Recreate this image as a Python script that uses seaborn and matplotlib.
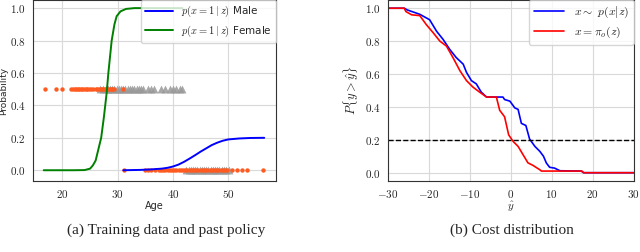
import numpy as np
import pandas as pd
import seaborn as sns
import matplotlib
matplotlib.use('Agg')
import matplotlib.pyplot as plt
from matplotlib.ticker import FuncFormatter, MultipleLocator

# Curvas de la política pasada
edad_fem = [16.6, 20, 22, 24, 25, 25.5, 26, 26.5, 27, 27.5, 28, 28.3, 28.9, 29.4,
            29.8, 30.5, 31.5, 33, 35, 41.7]
prob_fem = [0.0, 0.0, 0.0, 0.001, 0.01, 0.03, 0.06, 0.13, 0.2, 0.33, 0.48, 0.6, 0.8, 0.9,
            0.95, 0.98, 0.995, 1.0, 1.0, 1.0]
edad_masc = [31, 34, 36, 38, 39, 40, 41, 42, 43, 44, 45, 46, 47, 48, 49, 50, 52, 54, 56.5]
prob_masc = [0.0, 0.002, 0.005, 0.01, 0.015, 0.023, 0.035, 0.052, 0.072, 0.093, 0.115,
             0.135, 0.155, 0.17, 0.182, 0.19, 0.196, 0.199, 0.2]

# Datos de entrenamiento: puntos (naranja) y triángulos (gris)
fem_puntos = [16.8, 18.9, 19.9, 21.5, 21.9, 22.2, 22.5, 22.8, 23.0, 23.3, 23.6, 23.9, 24.2,
              24.5, 24.8, 25.1, 25.5, 26.0, 26.3, 26.6, 26.9, 27.2, 27.5, 27.8, 28.1, 28.4,
              28.7, 29.0, 29.3, 30.9]
fem_triang = [26.8, 27.3, 27.8, 28.2, 28.6, 29.0, 29.4, 29.8, 30.2, 30.6, 31.0, 31.4, 31.8,
              32.2, 32.6, 33.0, 33.4, 33.8, 34.2, 34.6, 35.5, 36.0, 36.5, 37.8, 38.6, 39.4,
              40.0, 40.6, 41.2, 41.7]
masc_puntos = [31.2, 34.9, 35.5, 36.1, 36.7, 37.4, 37.8, 38.2, 38.6, 39.0, 39.4, 39.8, 40.2,
               40.6, 41.0, 41.4, 41.8, 42.2, 42.6, 43.0, 43.4, 43.8, 44.2, 44.6, 45.0, 45.4,
               45.8, 46.2, 46.6, 47.0, 47.4, 47.8, 48.2, 48.6, 49.0, 49.4, 49.8, 50.7, 51.6,
               52.4, 53.3, 56.3]
masc_triang = [42.4, 42.8, 43.2, 43.6, 44.0, 44.4, 44.8, 45.2, 45.6, 46.0, 46.4, 46.8, 47.2,
               47.6, 48.0, 48.4, 48.8, 49.2, 49.6, 50.2]

# Distribución del coste
y_azul = [-30, -26, -25.3, -22.2, -19.8, -18.1, -16.5, -14.9, -13.3, -11.6, -10.8, -9.6, -8.4,
          -7.2, -5.9, -1.9, -1.5, -0.2, 1.0, 1.8, 2.6, 3.7, 4.6, 5.9, 7.1, 8.0, 8.7, 9.5,
          10.7, 12.0, 17.2, 17.8, 30]
p_azul = [1.0, 1.0, 0.99, 0.963, 0.93, 0.86, 0.81, 0.75, 0.70, 0.66, 0.61, 0.56, 0.54, 0.49,
          0.46, 0.46, 0.445, 0.435, 0.394, 0.385, 0.30, 0.287, 0.205, 0.16, 0.13, 0.10,
          0.059, 0.033, 0.028, 0.012, 0.01, 0.0, 0.0]
y_rojo = [-30, -26, -25.6, -24.2, -22.2, -20.6, -18.9, -17.3, -15.7, -14.1, -12.4, -10.8, -9.2,
          -7.6, -5.9, -3.5, -2.7, -1.5, -0.5, 0.6, 1.8, 3.0, 4.2, 5.4, 7.1, 7.5, 17.4, 17.8, 30]
p_rojo = [1.0, 1.0, 0.98, 0.96, 0.955, 0.90, 0.85, 0.80, 0.77, 0.70, 0.62, 0.56, 0.52, 0.49,
          0.46, 0.46, 0.38, 0.34, 0.23, 0.19, 0.16, 0.11, 0.06, 0.045, 0.018, 0.01, 0.01, 0.0, 0.0]
umbral = 0.2

sns.set_style('whitegrid', {'axes.edgecolor': '0.2', 'grid.color': '0.85'})
plt.rcParams['mathtext.fontset'] = 'cm'
plt.rcParams['font.family'] = ['DejaVu Sans']

fig = plt.figure(figsize=(6.4, 2.52), dpi=100)
ax1 = fig.add_axes([0.051, 0.282, 0.380, 0.718])
ax2 = fig.add_axes([0.606, 0.282, 0.384, 0.718])

naranja = '#ff5a1f'
sns.scatterplot(x=fem_triang, y=[0.5] * len(fem_triang), marker='^', color='0.6', s=32,
                linewidth=0, alpha=0.85, ax=ax1)
sns.scatterplot(x=masc_triang, y=[0.0] * len(masc_triang), marker='^', color='0.6', s=32,
                linewidth=0, alpha=0.85, ax=ax1)
sns.scatterplot(x=fem_puntos, y=[0.5] * len(fem_puntos), color=naranja, s=10, linewidth=0,
                ax=ax1)
sns.scatterplot(x=masc_puntos, y=[0.0] * len(masc_puntos), color=naranja, s=10, linewidth=0,
                ax=ax1)
sns.lineplot(x=edad_masc, y=prob_masc, color='blue', lw=1.4, sort=False, ax=ax1,
             label=r'$p(x=1\mid z)$ Male')
sns.lineplot(x=edad_fem, y=prob_fem, color='green', lw=1.4, sort=False, ax=ax1,
             label=r'$p(x=1\mid z)$ Female')
ax1.set_xlim(14.6, 58.6)
ax1.set_ylim(-0.066, 1.05)
ax1.xaxis.set_major_locator(MultipleLocator(10))
ax1.yaxis.set_major_locator(MultipleLocator(0.2))
ax1.xaxis.set_major_formatter(FuncFormatter(lambda v, p: f'${v:.0f}$'))
ax1.yaxis.set_major_formatter(FuncFormatter(lambda v, p: f'${v:.1f}$'))
ax1.set_xlabel('Age', fontsize=7, labelpad=1)
ax1.set_ylabel('Probability', fontsize=6.5)
ax1.yaxis.set_label_coords(-0.1, 0.5)
ax1.tick_params(labelsize=8, pad=1.5)
ax1.legend(loc='upper right', fontsize=7.5, handlelength=2.6, borderpad=0.4,
           labelspacing=0.4, borderaxespad=0.0)

sns.lineplot(x=y_azul, y=p_azul, color='blue', lw=1.2, sort=False,
             ax=ax2, label=r'$x \sim\ p(x|z)$')
sns.lineplot(x=y_rojo, y=p_rojo, color='red', lw=1.2, sort=False,
             ax=ax2, label=r'$x = \pi_o(z)$')
ax2.axhline(umbral, color='black', ls='--', lw=1.0)
ax2.set_xlim(-30, 30)
ax2.set_ylim(-0.05, 1.05)
ax2.xaxis.set_major_locator(MultipleLocator(10))
ax2.yaxis.set_major_locator(MultipleLocator(0.2))
ax2.xaxis.set_major_formatter(FuncFormatter(lambda v, p: f'${v:.0f}$'))
ax2.yaxis.set_major_formatter(FuncFormatter(lambda v, p: f'${v:.1f}$'))
ax2.set_xlabel(r'$\hat{y}$', fontsize=8, labelpad=0)
ax2.set_ylabel(r'$P\{y > \hat{y}\}$', fontsize=9)
ax2.yaxis.set_label_coords(-0.11, 0.5)
ax2.tick_params(labelsize=8, pad=1.5)
ax2.legend(loc='upper right', fontsize=8.5, handlelength=2.6, borderpad=0.4,
           labelspacing=0.4, borderaxespad=0.0)

fig.text(0.26, 0.085, '(a) Training data and past policy', ha='center', va='center',
         family='Liberation Serif', fontsize=11)
fig.text(0.80, 0.085, '(b) Cost distribution', ha='center', va='center',
         family='Liberation Serif', fontsize=11)

fig.savefig('out.png', dpi=100)
